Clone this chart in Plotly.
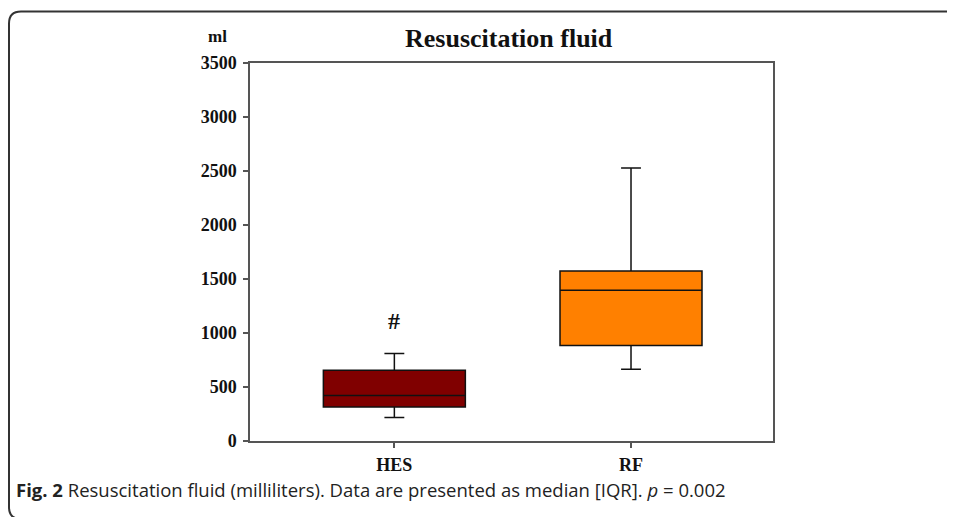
import plotly.graph_objects as go

groups = ["HES", "RF"]
lower_fence = [217, 665]
q1 = [315, 885]
median = [421, 1395]
q3 = [656, 1574]
upper_fence = [811, 2527]
fill_colors = ["#800000", "#FF8000"]
y_ticks = [0, 500, 1000, 1500, 2000, 2500, 3000, 3500]
marker_y = 1110  # position of the "#" significance mark (data units)

OFF = 8  # page body margin in the browser
W, H = 955 - OFF, 517 - OFF
L, R, T, B = 250 - OFF, 182, 63 - OFF, 76
PW, PH = W - L - R, H - T - B


def px(x):
    return (x - OFF - L) / PW


def py(y):
    return (H - B - (y - OFF)) / PH


fig = go.Figure()
for i, g in enumerate(groups):
    fig.add_trace(go.Box(
        x=[g], q1=[q1[i]], median=[median[i]], q3=[q3[i]],
        lowerfence=[lower_fence[i]], upperfence=[upper_fence[i]],
        fillcolor=fill_colors[i],
        line=dict(color="#111111", width=1.5),
        width=0.6, whiskerwidth=0.14,
        boxpoints=False, showlegend=False, hoverinfo="skip",
    ))

serif = "Liberation Serif"

# rounded border around the figure (extends past the right and bottom edges)
r = 12
x0, yt, yb = 9, 11.5, 519
path = (f"M {px(W + 40)},{py(yt)} L {px(x0 + r)},{py(yt)} "
        f"Q {px(x0)},{py(yt)} {px(x0)},{py(yt + r)} "
        f"L {px(x0)},{py(yb - r)} "
        f"Q {px(x0)},{py(yb)} {px(x0 + r)},{py(yb)} "
        f"L {px(W + 40)},{py(yb)}")

fig.update_layout(
    width=W, height=H,
    margin=dict(l=L, r=R, t=T, b=B),
    paper_bgcolor="white", plot_bgcolor="white",
    shapes=[dict(type="path", path=path, xref="paper", yref="paper",
                 line=dict(color="#333333", width=2), layer="above")],
    annotations=[
        dict(text="<b>Resuscitation fluid</b>", xref="paper", yref="paper",
             x=px(509), y=py(38), xanchor="center", yanchor="middle",
             showarrow=False, font=dict(family=serif, size=26, color="#111")),
        dict(text="<b>ml</b>", xref="paper", yref="paper",
             x=px(217), y=py(37), xanchor="center", yanchor="middle",
             showarrow=False, font=dict(family=serif, size=17, color="#111")),
        dict(text="<b>#</b>", x="HES", y=marker_y, xref="x", yref="y",
             xanchor="center", yanchor="middle", showarrow=False,
             font=dict(family=serif, size=24, color="#111")),
        dict(text="<b>Fig. 2</b> Resuscitation fluid (milliliters). Data are presented as median [IQR]. <i>p</i> = 0.002",
             xref="paper", yref="paper", x=px(14), y=py(490),
             xanchor="left", yanchor="middle", showarrow=False,
             font=dict(family="Open Sans", size=18.5, color="#222")),
    ],
    xaxis=dict(
        type="category", range=[-0.61, 1.6],
        showline=True, mirror=True, linecolor="#555", linewidth=1.5,
        ticks="outside", ticklen=5, tickcolor="#555", tickwidth=1.5,
        showgrid=False, zeroline=False,
        tickfont=dict(family=serif, size=18, color="#111"),
        tickprefix="<b>", ticksuffix="</b>",
        ticklabelstandoff=2,
    ),
    yaxis=dict(
        range=[0, 3500], tickvals=y_ticks,
        ticktext=[f"<b>{v}</b>" for v in y_ticks],
        showline=True, mirror=True, linecolor="#555", linewidth=1.5,
        ticks="outside", ticklen=5, tickcolor="#555", tickwidth=1.5,
        showgrid=False, zeroline=False,
        tickfont=dict(family=serif, size=18, color="#111"),
        ticklabelstandoff=3,
    ),
)

fig.write_html("out.html")
